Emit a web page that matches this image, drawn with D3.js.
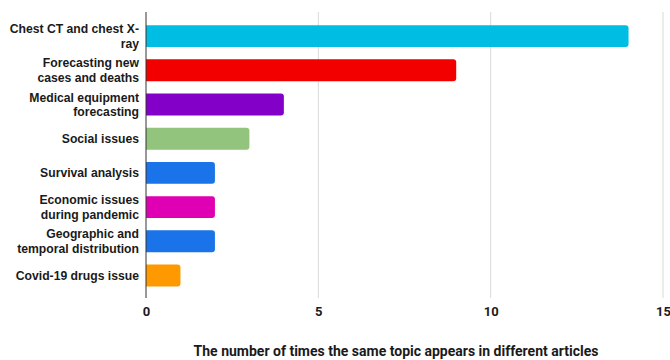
<!DOCTYPE html>
<html>
<head>
<meta charset="utf-8">
<script src="https://cdn.jsdelivr.net/npm/d3@7"></script>
<style>
  body { margin: 0; background: #fff; }
  svg { display: block; }
</style>
</head>
<body>
<div id="chart"></div>
<script>
const topics = [
    ["Chest CT and chest X-", "ray"],
    ["Forecasting new", "cases and deaths"],
    ["Medical equipment", "forecasting"],
    ["Social issues"],
    ["Survival analysis"],
    ["Economic issues", "during pandemic"],
    ["Geographic and", "temporal distribution"],
    ["Covid-19 drugs issue"]
];
const counts = [14, 9, 4, 3, 2, 2, 2, 1];
const barColors = ["#00bde3", "#f20000", "#8200c8", "#93c47d", "#1a73e8", "#e000b4", "#1a73e8", "#ff9900"];
const xTicks = [0, 5, 10, 15];
const xTitle = "The number of times the same topic appears in different articles";

const w = 670, h = 360;
const plotLeft = 146, plotRight = 663, plotTop = 19, plotBottom = 292.6;

const svg = d3.select("#chart").append("svg")
    .attr("width", w)
    .attr("height", h);

const xScale = d3.scaleLinear().domain([0, 15]).range([plotLeft, plotRight]);
const yScale = d3.scaleBand()
    .domain(d3.range(counts.length))
    .range([plotTop, plotBottom])
    .paddingInner(0.36)
    .paddingOuter(0.18);

// grid lines
svg.append("g")
    .selectAll("line")
    .data(xTicks.filter(t => t > 0))
    .enter()
    .append("line")
    .attr("x1", d => xScale(d))
    .attr("x2", d => xScale(d))
    .attr("y1", 12)
    .attr("y2", 298)
    .attr("stroke", "#d9d9d9")
    .attr("stroke-width", 1);

// bars: rounded on the right end only
svg.append("g")
    .selectAll("path")
    .data(counts)
    .enter()
    .append("path")
    .attr("fill", (d, i) => barColors[i])
    .attr("d", (d, i) => {
        const x0 = xScale(0), x1 = xScale(d);
        const y0 = yScale(i), bh = yScale.bandwidth();
        const r = 3;
        return "M" + x0 + "," + y0 +
            "H" + (x1 - r) +
            "Q" + x1 + "," + y0 + " " + x1 + "," + (y0 + r) +
            "V" + (y0 + bh - r) +
            "Q" + x1 + "," + (y0 + bh) + " " + (x1 - r) + "," + (y0 + bh) +
            "H" + x0 + "Z";
    });

// axis line
svg.append("line")
    .attr("x1", xScale(0))
    .attr("x2", xScale(0))
    .attr("y1", 12)
    .attr("y2", 298)
    .attr("stroke", "#333")
    .attr("stroke-width", 1);

// category labels
const labels = svg.append("g")
    .attr("font-family", "'Liberation Sans', Arial, sans-serif")
    .attr("font-weight", "bold")
    .attr("font-size", "12.2px")
    .attr("fill", "#1a1a1a")
    .attr("text-anchor", "end");

topics.forEach((lines, i) => {
    const cy = yScale(i) + yScale.bandwidth() / 2;
    const lh = 14.5;
    const t = labels.append("text")
        .attr("y", cy - (lines.length - 1) * lh / 2);
    lines.forEach((ln, j) => {
        t.append("tspan")
            .attr("x", 139)
            .attr("dy", j === 0 ? "0.35em" : lh)
            .text(ln);
    });
});

// x axis tick labels
const xAxis = d3.axisBottom(xScale)
    .tickValues(xTicks)
    .tickSize(0)
    .tickPadding(0);

svg.append("g")
    .attr("transform", "translate(0,307)")
    .call(xAxis)
    .call(g => g.select(".domain").remove())
    .call(g => g.selectAll("text")
        .attr("font-family", "Roboto, sans-serif")
        .attr("font-weight", "bold")
        .attr("font-size", "13px")
        .attr("fill", "#1a1a1a"));

// axis title
svg.append("text")
    .attr("x", 396)
    .attr("y", 356)
    .attr("text-anchor", "middle")
    .attr("font-family", "Roboto, sans-serif")
    .attr("font-weight", "bold")
    .attr("font-size", "14px")
    .attr("fill", "#1a1a1a")
    .text(xTitle);
</script>
</body>
</html>
